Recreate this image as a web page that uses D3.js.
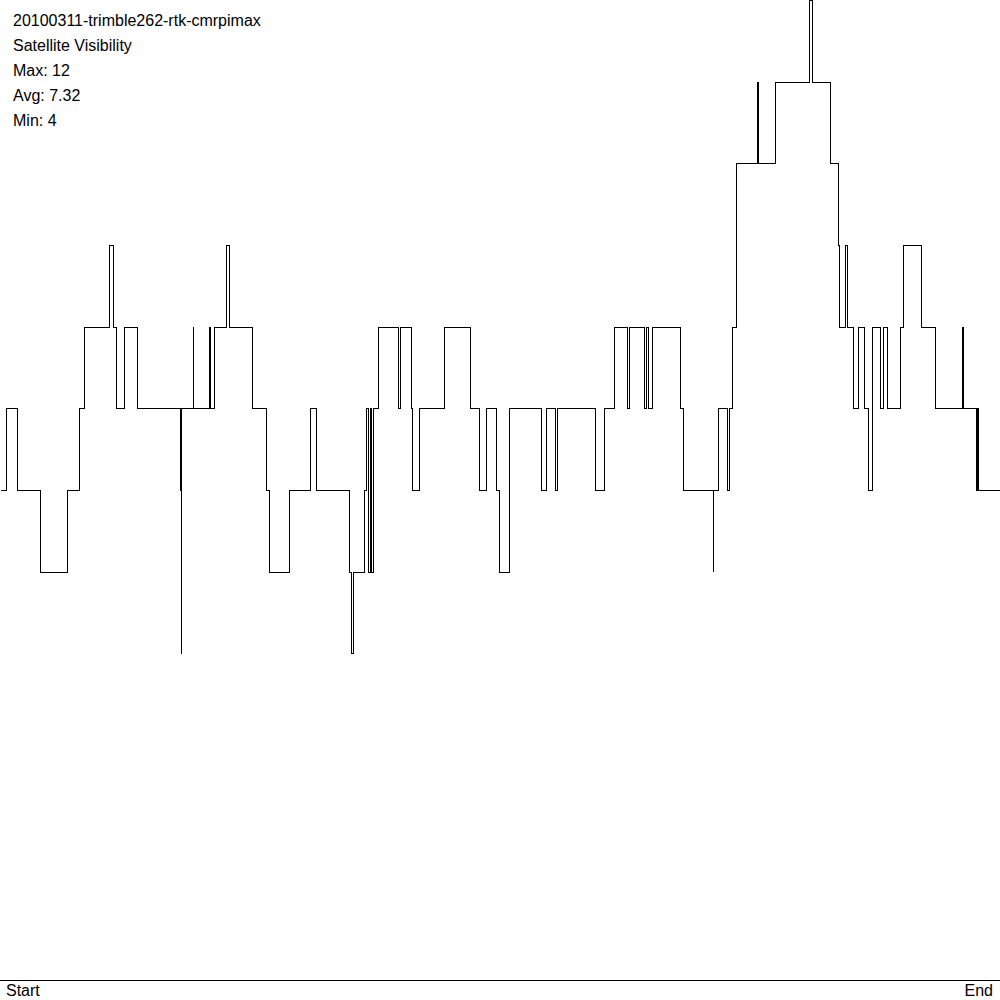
<!DOCTYPE html>
<html>
<head>
<meta charset="utf-8">
<script src="https://cdn.jsdelivr.net/npm/d3@7"></script>
<style>
html,body{margin:0;padding:0;background:#fff;}
svg{display:block;}
text{font-family:"Liberation Sans",Arial,sans-serif;font-size:16px;fill:#000;}
</style>
</head>
<body>
<svg id="chart" width="1000" height="1000"></svg>
<script>
const titleLines = ["20100311-trimble262-rtk-cmrpimax", "Satellite Visibility", "Max: 12", "Avg: 7.32", "Min: 4"];
const axisLabels = ["Start", "End"];
// breakpoints (relative time, 0..1000) and satellite count starting at each breakpoint
const times = [0,6,7,17,40,67,79,84,109,113,116,124,137,180,181,181,193,193,208.5,209.5,214,226,229,252,266,269,289,310,316,349,351,352.5,364,366,368,370,371,373,378,398,400,411,412,419,444,470,479,486,496,499,509,541,546,555,557,595,604,614,627,629,644,645.5,647.5,652,680,683,713,713,718,727,729,732,736,757,758,775,809,812,830,838,839,845,846.5,853,858,864,867.5,872,880,883,887,900,903,921,935,962,963,976,977,978,1000];
const counts = [6,7,7,6,5,6,7,8,9,8,7,8,7,6,4,7,8,7,8,7,8,9,8,7,6,5,6,7,6,5,4,5,6,7,5,7,5,7,8,7,8,7,6,7,8,7,6,7,6,5,7,6,7,6,7,6,7,8,7,8,7,8,7,8,7,6,5,6,7,6,7,8,10,11,10,11,12,11,10,9,8,9,8,7,8,7,6,8,7,8,7,8,9,8,7,8,7,6,7,6,6];

const data = times.map((t,i)=>({t, v: counts[i]}));
const svg = d3.select("#chart");
const x = d3.scaleLinear().domain([0,1000]).range([0,1000]);
const y = d3.scaleLinear().domain([0,12]).range([980,0]);

const line = d3.line().x(d=>x(d.t)).y(d=>y(d.v)).curve(d3.curveStepAfter);
svg.append("path").datum(data)
  .attr("d", line)
  .attr("fill","none").attr("stroke","#000").attr("stroke-width",1)
  .attr("transform","translate(0.5,0.5)")
  .attr("shape-rendering","crispEdges");

svg.append("line").attr("x1",0).attr("x2",1000).attr("y1",y(0)+0.5).attr("y2",y(0)+0.5)
  .attr("stroke","#000").attr("stroke-width",1).attr("shape-rendering","crispEdges");

svg.selectAll("text.title").data(titleLines).enter().append("text")
  .attr("class","title").attr("x",13).attr("y",(d,i)=>26+i*25).text(d=>d);

svg.append("text").attr("x",6).attr("y",996).text(axisLabels[0]);
svg.append("text").attr("x",993).attr("y",996).attr("text-anchor","end").text(axisLabels[1]);
</script>
</body>
</html>
